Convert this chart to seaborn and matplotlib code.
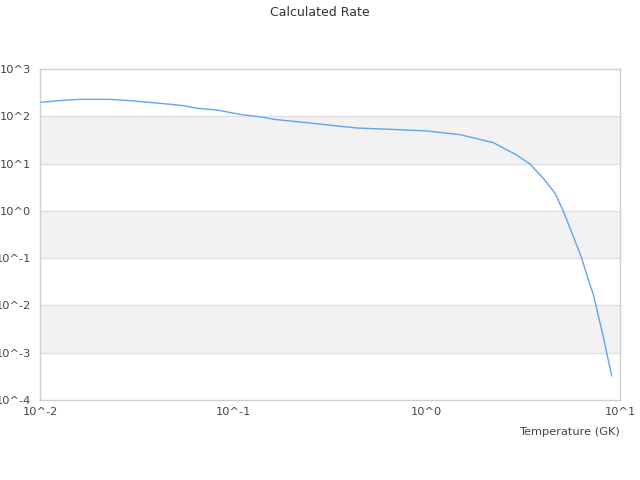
import numpy as np
import pandas as pd
import matplotlib
matplotlib.use("Agg")
import matplotlib.pyplot as plt
import matplotlib.ticker as mticker
import seaborn as sns

# values (temperature in GK, rate)
temperature = [0.0101, 0.0132, 0.0161, 0.0230, 0.0292, 0.0418, 0.0551, 0.0647,
               0.0820, 0.108, 0.143, 0.161, 0.240, 0.435, 0.646, 1.0, 1.49,
               2.21, 2.92, 3.42, 4.01, 4.61, 5.09, 5.74, 6.34, 6.86, 7.28,
               8.20, 9.06]
rate = [198, 218, 228, 228, 214, 188, 168, 148,
        136, 110, 95.2, 86.4, 73.2, 56.5, 53.1, 48.9, 40.8,
        27.7, 15.2, 9.8, 4.89, 2.36, 0.99, 0.284, 0.0993, 0.0345, 0.017,
        0.00215, 0.000322]
y_decades = [-4, -3, -2, -1, 0, 1, 2, 3]
x_decades = [-2, -1, 0, 1]

df = pd.DataFrame({"T": temperature, "rate": rate})

sns.set_style("white")
plt.rcParams["font.family"] = ["DejaVu Sans"]

fig = plt.figure(figsize=(6.4, 4.8), dpi=100)
ax = fig.add_axes([40 / 640, 1 - 400 / 480, 580 / 640, 331 / 480])

ax.set_xscale("log")
ax.set_yscale("log")
ax.set_xlim(1e-2, 1e1)
ax.set_ylim(1e-4, 1e3)

# alternating bands
for lo in y_decades[:-1]:
    if (y_decades[-1] - lo) % 2 == 0:
        ax.axhspan(10.0 ** lo, 10.0 ** (lo + 1), color="#f2f2f2", zorder=0, lw=0)
for d in y_decades[1:-1]:
    ax.axhline(10.0 ** d, color="#dddddd", lw=0.9, zorder=1)

sns.lineplot(data=df, x="T", y="rate", ax=ax, color="#5ea5f2", lw=1.0, zorder=3)

fmt = mticker.FuncFormatter(lambda v, p: "10^%d" % round(np.log10(v)))
ax.yaxis.set_major_locator(mticker.FixedLocator([10.0 ** d for d in y_decades]))
ax.xaxis.set_major_locator(mticker.FixedLocator([10.0 ** d for d in x_decades]))
ax.yaxis.set_minor_locator(mticker.NullLocator())
ax.xaxis.set_minor_locator(mticker.NullLocator())
ax.yaxis.set_major_formatter(fmt)
ax.xaxis.set_major_formatter(fmt)
ax.tick_params(axis="both", length=0, labelsize=8.2, labelcolor="#444444")
ax.tick_params(axis="y", pad=6.5)
ax.tick_params(axis="x", pad=5)

for s in ax.spines.values():
    s.set_color("#d0d0d0")
    s.set_linewidth(1.0)

ax.set_ylabel("")
ax.set_xlabel("Temperature (GK)", fontsize=8.2, color="#444444", loc="right", labelpad=7)
fig.text(0.5, 1 - 12 / 480, "Calculated Rate", ha="center", va="center",
         fontsize=9, color="#333333")

fig.savefig("out.png", dpi=100)
